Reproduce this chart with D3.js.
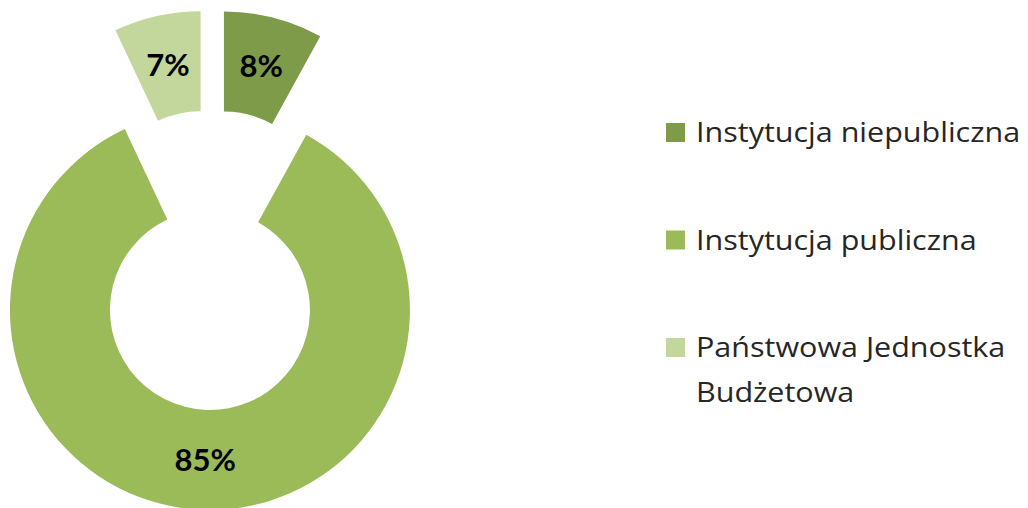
<html>
<head>
<meta charset="utf-8">
<script src="https://d3js.org/d3.v7.min.js"></script>
<style>
  body { margin: 0; background: #fff; }
  .pct { font-family: Lato, "Open Sans", sans-serif; font-weight: bold; font-size: 31px; fill: #000; }
  .leg { font-family: "Open Sans", Lato, sans-serif; font-size: 28px; fill: #262626; }
</style>
</head>
<body>
<script>
// ---------------- data ----------------
var categories = ["Instytucja niepubliczna", "Instytucja publiczna", "Państwowa Jednostka Budżetowa"];
var values     = [8, 85, 7];
var colors     = ["#7D9B48", "#9BBB59", "#C3D69B"];
// legend text broken into lines as in the original
var legendLines = [["Instytucja niepubliczna"], ["Instytucja publiczna"], ["Państwowa Jednostka", "Budżetowa"]];

// ---------------- layout ----------------
var W = 1028, H = 508;
var center  = { x: 211.5, y: 260 };
var rInner  = 100, rOuter = 200;
var explode = 50;
var legend  = { x: 666, box: 19, textX: 696, first: 142, step: 107.5, lineH: 45, stretch: 1.09 };

var svg = d3.select("body").append("svg").attr("width", W).attr("height", H);

var data = categories.map(function(c, i){ return { name: c, value: values[i], color: colors[i] }; });

var pie = d3.pie().sort(null).value(function(d){ return d.value; });
var arc = d3.arc().innerRadius(rInner).outerRadius(rOuter);
var labelArc = d3.arc().innerRadius((rInner + rOuter) / 2).outerRadius((rInner + rOuter) / 2);

var total = d3.sum(values);

var slices = svg.append("g")
  .attr("transform", "translate(" + center.x + "," + center.y + ")")
  .selectAll("g").data(pie(data)).enter().append("g")
  .attr("transform", function(d){
    var a = (d.startAngle + d.endAngle) / 2;
    return "translate(" + (explode * Math.sin(a)) + "," + (-explode * Math.cos(a)) + ")";
  });

slices.append("path")
  .attr("d", arc)
  .attr("fill", function(d){ return d.data.color; });

slices.append("text")
  .attr("class", "pct")
  .attr("transform", function(d){ return "translate(" + labelArc.centroid(d) + ")"; })
  .attr("text-anchor", "middle")
  .attr("dy", "0.36em")
  .text(function(d){ return Math.round(d.data.value / total * 100) + "%"; });

// ---------------- legend ----------------
var leg = svg.append("g").selectAll("g").data(data).enter().append("g")
  .attr("transform", function(d, i){ return "translate(0," + (legend.first + i * legend.step) + ")"; });

leg.append("rect")
  .attr("x", legend.x).attr("y", -legend.box)
  .attr("width", legend.box).attr("height", legend.box)
  .attr("fill", function(d){ return d.color; });

// the original text is a bit wider than Open Sans, so stretch horizontally
leg.append("text")
  .attr("class", "leg")
  .attr("transform", "translate(" + legend.textX + ",0) scale(" + legend.stretch + ",1)")
  .selectAll("tspan").data(function(d, i){ return legendLines[i]; }).enter().append("tspan")
  .attr("x", 0)
  .attr("y", function(d, j){ return j * legend.lineH; })
  .text(function(d){ return d; });
</script>
</body>
</html>
